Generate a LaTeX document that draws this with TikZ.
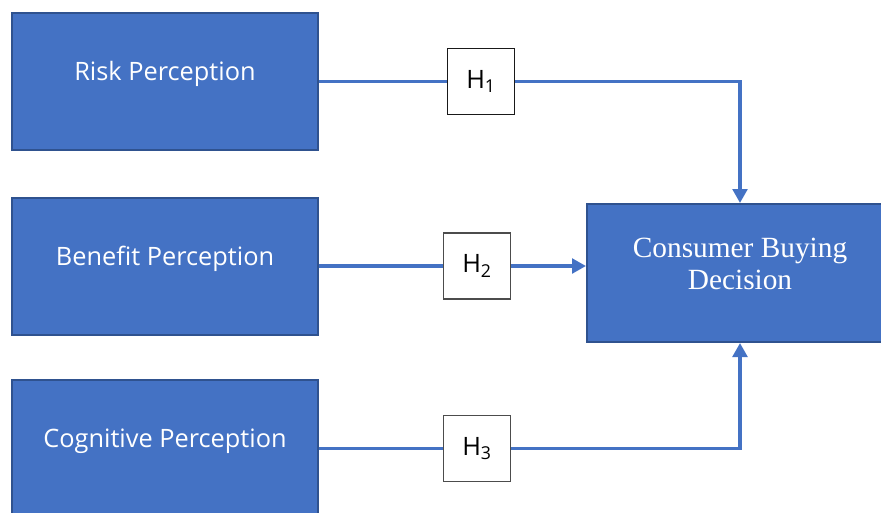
\documentclass[tikz,border=0pt]{standalone}
\usepackage{fontspec}
\usetikzlibrary{positioning,arrows.meta}
\newfontfamily\percfont{Open Sans}
\newfontfamily\decfont{Liberation Serif}
\definecolor{boxBlue}{HTML}{4472C4}
\definecolor{boxEdge}{HTML}{2F528F}
\tikzset{
  perc/.style={draw=boxEdge, line width=1.5pt, fill=boxBlue,
               minimum width=229.5pt, minimum height=102.75pt},
  perclbl/.style={text=white, font=\percfont\fontsize{19}{23}\selectfont, yshift=5.5pt},
  dec/.style={perc, minimum height=103.5pt},
  declbl/.style={text=white, font=\decfont\fontsize{22}{24}\selectfont,
                 align=center, yshift=6.75pt},
  hyp/.style={draw=black!70, line width=0.8pt, fill=white, inner sep=0pt,
              minimum width=50pt, minimum height=49.5pt,
              font=\percfont\fontsize{19}{23}\selectfont},
  link/.style={draw=boxBlue, line width=2.5pt},
  arr/.style={link, -{Triangle[length=10.5pt,width=11pt]}},
}
\begin{document}
\begin{tikzpicture}[x=0.75pt,y=-0.75pt]
    \useasboundingbox (0,0) rectangle (881,512);
    % perception boxes
    \node[perc, label={[perclbl]center:Risk Perception}] (risk) at (165,81.5) {};
    \node[perc, label={[perclbl]center:Benefit Perception}] (benefit) at (165,266) {};
    \node[perc, label={[perclbl]center:Cognitive Perception}] (cog) at (165,448.5) {};
    % outcome
    \node[dec, label={[declbl]center:{Consumer Buying\\Decision}}] (buy) at (740,273) {};
    % hypotheses
    \node[hyp, draw=black!90] (h1) at (481,81.5) {H\textsubscript{1}};
    \node[hyp] (h2) at (477,266) {H\textsubscript{2}};
    \node[hyp] (h3) at (477,448.5) {H\textsubscript{3}};
    \draw[link] (risk) -- (h1);
    \draw[link] (benefit) -- (h2);
    \draw[link] (cog) -- (h3);
    \draw[arr] (h1.east) -| (buy.north);
    \draw[arr] (h2) -- (h2 -| buy.west);
    \draw[arr] (h3.east) -| (buy.south);
  \end{tikzpicture}
\end{document}
